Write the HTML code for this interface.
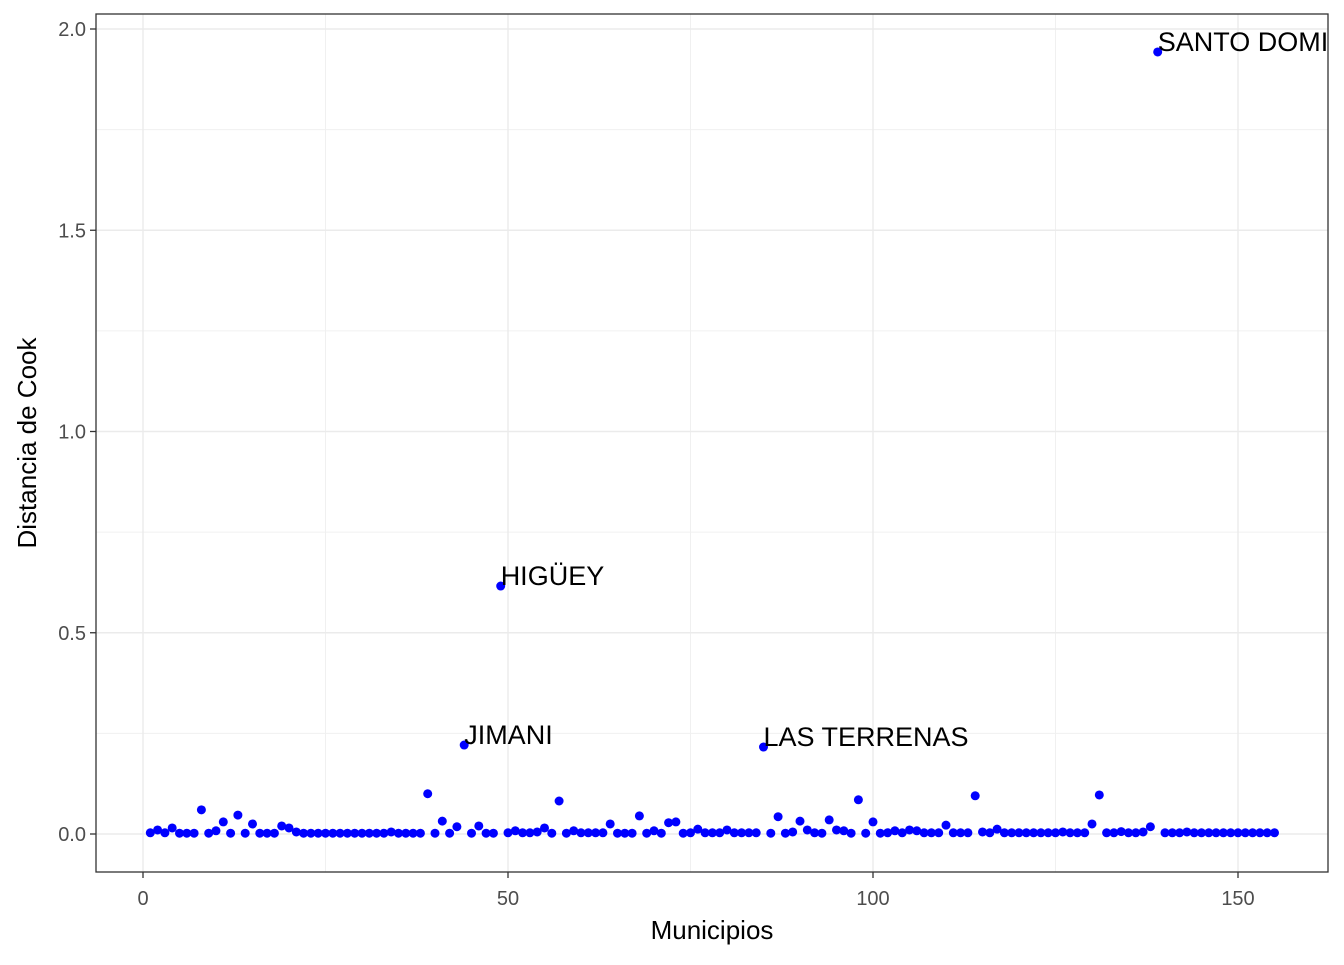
<!DOCTYPE html>
<html><head><meta charset="utf-8"><style>
body{margin:0;background:#fff;font-family:"Liberation Sans",sans-serif;}
</style></head><body>
<svg width="1344" height="960" viewBox="0 0 1344 960">
<defs><clipPath id="pc"><rect x="96" y="14" width="1232" height="858"/></clipPath></defs>
<rect x="96" y="14" width="1232" height="858" fill="#fff"/>
<g id="grid"></g>
<g id="pts" clip-path="url(#pc)"></g>
<g id="labels" clip-path="url(#pc)"></g>
<rect x="96" y="14" width="1232" height="858" fill="none" stroke="#333" stroke-width="1.3"/>
<g id="axes"></g>
<text x="712" y="939" text-anchor="middle" font-size="26" fill="#000">Municipios</text>
<text transform="translate(36,443) rotate(-90)" text-anchor="middle" font-size="26" fill="#000">Distancia de Cook</text>
</svg>
<script>
const xTicks=[0,50,100,150];
const yTicks=[0,0.5,1.0,1.5,2.0];
const yTickLabels=["0.0","0.5","1.0","1.5","2.0"];
const cookValues=[0.003,0.01,0.003,0.015,0.002,0.002,0.002,0.06,0.002,0.008,0.03,0.002,0.047,0.002,0.025,0.002,0.002,0.002,0.02,0.015,0.005,0.002,0.002,0.002,0.002,0.002,0.002,0.002,0.002,0.002,0.002,0.002,0.002,0.005,0.002,0.002,0.002,0.002,0.1,0.002,0.032,0.002,0.018,0.221,0.002,0.02,0.002,0.002,0.616,0.003,0.008,0.003,0.003,0.005,0.015,0.002,0.082,0.002,0.008,0.003,0.003,0.003,0.003,0.025,0.002,0.002,0.002,0.045,0.002,0.008,0.002,0.028,0.03,0.002,0.003,0.012,0.003,0.003,0.003,0.01,0.003,0.003,0.003,0.003,0.216,0.002,0.043,0.002,0.005,0.032,0.01,0.003,0.002,0.035,0.01,0.008,0.002,0.085,0.002,0.03,0.002,0.003,0.008,0.003,0.01,0.008,0.003,0.003,0.003,0.022,0.003,0.003,0.003,0.095,0.005,0.003,0.012,0.003,0.003,0.003,0.003,0.003,0.003,0.003,0.003,0.005,0.003,0.003,0.003,0.025,0.097,0.003,0.003,0.006,0.003,0.003,0.005,0.018,1.943,0.003,0.003,0.003,0.005,0.003,0.003,0.003,0.003,0.003,0.003,0.003,0.003,0.003,0.003,0.003,0.003];
const labelIdx=[44,49,85,139];
const labelText=["JIMANI","HIGÜEY","LAS TERRENAS","SANTO DOMINGO"];
const NS="http://www.w3.org/2000/svg";
const sx=v=>143+v*7.3, sy=v=>834-v*402.5;
function mk(t,a,p){const e=document.createElementNS(NS,t);for(const k in a)e.setAttribute(k,a[k]);p.appendChild(e);return e;}
const grid=document.getElementById('grid'),axes=document.getElementById('axes');
[25,75,125].forEach(v=>{const l=mk('line',{x1:sx(v),x2:sx(v),y1:14,y2:872,stroke:'#f0f0f0','stroke-width':1},grid);});
[0.25,0.75,1.25,1.75].forEach(v=>{const l=mk('line',{x1:96,x2:1328,y1:sy(v),y2:sy(v),stroke:'#f0f0f0','stroke-width':1},grid);});
xTicks.forEach(v=>{const l=mk('line',{x1:sx(v),x2:sx(v),y1:14,y2:872,stroke:'#ebebeb','stroke-width':1.4},grid);
const t=mk('line',{x1:sx(v),x2:sx(v),y1:872,y2:878,stroke:'#333','stroke-width':1.3},axes);
const tx=mk('text',{x:sx(v),y:905,'text-anchor':'middle','font-size':20,fill:'#4d4d4d'},axes);tx.textContent=v;});
yTicks.forEach((v,i)=>{const l=mk('line',{x1:96,x2:1328,y1:sy(v),y2:sy(v),stroke:'#ebebeb','stroke-width':1.4},grid);
const t=mk('line',{x1:90,x2:96,y1:sy(v),y2:sy(v),stroke:'#333','stroke-width':1.3},axes);
const tx=mk('text',{x:86,y:sy(v)+7,'text-anchor':'end','font-size':20,fill:'#4d4d4d'},axes);tx.textContent=yTickLabels[i];});
const pts=document.getElementById('pts');
cookValues.forEach((v,i)=>{const c=mk('circle',{cx:sx(i+1),cy:sy(v),r:4.5,fill:'#0000ff'},pts);});
const lab=document.getElementById('labels');
labelIdx.forEach((idx,i)=>{const t=mk('text',{x:sx(idx),y:sy(cookValues[idx-1])-1,'font-size':27,fill:'#000'},lab);t.textContent=labelText[i];});
</script>
</body></html>
